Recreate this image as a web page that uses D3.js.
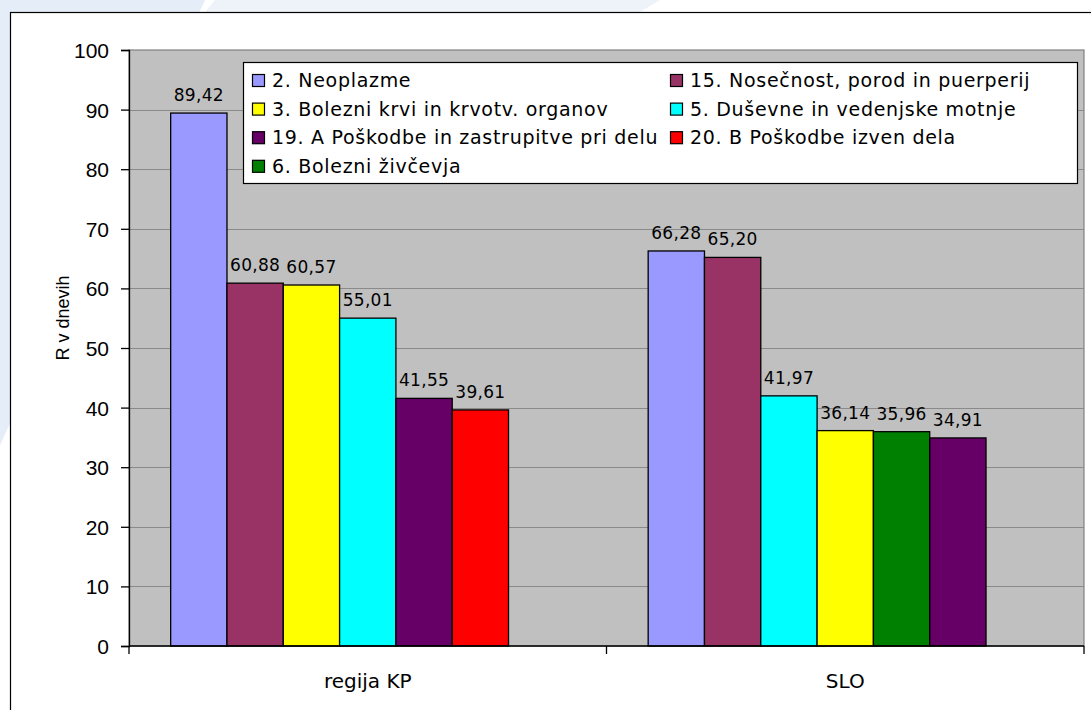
<!DOCTYPE html>
<html>
<head>
<meta charset="utf-8">
<script src="https://cdn.jsdelivr.net/npm/d3@7"></script>
<style>
  body { margin: 0; background: #ffffff; }
  svg { display: block; }
  .tick-label { font-family: "Liberation Sans", Arial, sans-serif; font-size: 21px; fill: #000; }
  .cat-label { font-family: "DejaVu Sans", sans-serif; font-size: 20px; fill: #000; }
  .value-label { font-family: "DejaVu Sans", sans-serif; font-size: 17px; letter-spacing: 0.3px; fill: #000; }
  .legend-text { font-family: "DejaVu Sans", sans-serif; font-size: 19px; letter-spacing: 0.7px; fill: #000; }
  .axis-title { font-family: "Liberation Sans", Arial, sans-serif; font-size: 18px; fill: #000; }
</style>
</head>
<body>
<script>
// categories on the x axis
var categories = ["regija KP", "SLO"];

// all series, in legend order
var seriesNames = [
  "2. Neoplazme",
  "15. Nosečnost, porod in puerperij",
  "3. Bolezni krvi in krvotv. organov",
  "5. Duševne in vedenjske motnje",
  "19. A Poškodbe in zastrupitve pri delu",
  "20. B Poškodbe izven dela",
  "6. Bolezni živčevja"
];

// bars of each category, left to right
var kpSeries = ["2. Neoplazme", "15. Nosečnost, porod in puerperij", "3. Bolezni krvi in krvotv. organov",
                "5. Duševne in vedenjske motnje", "19. A Poškodbe in zastrupitve pri delu", "20. B Poškodbe izven dela"];
var kpValues = [89.42, 60.88, 60.57, 55.01, 41.55, 39.61];

var sloSeries = ["2. Neoplazme", "15. Nosečnost, porod in puerperij", "5. Duševne in vedenjske motnje",
                 "3. Bolezni krvi in krvotv. organov", "6. Bolezni živčevja", "19. A Poškodbe in zastrupitve pri delu"];
var sloValues = [66.28, 65.20, 41.97, 36.14, 35.96, 34.91];

var yTicks = [0, 10, 20, 30, 40, 50, 60, 70, 80, 90, 100];

// excel style colours, one per series
var seriesColors = ["#9999ff", "#993366", "#ffff00", "#00ffff", "#660066", "#ff0000", "#008000"];

var totalWidth = 1091;
var totalHeight = 710;
var margin = {"left": 129, "right": 7, "top": 50, "bottom": 64};

var svg = d3.select("body")
            .append("svg")
            .attr("width", totalWidth)
            .attr("height", totalHeight);

// faint background decoration
svg.append("path")
   .attr("d", "M0,0 L205,0 L0,445 Z")
   .attr("fill", "#e4edf8");
svg.append("path")
   .attr("d", "M215,0 L660,0 L640,12 L205,12 Z")
   .attr("fill", "#eef3fa");

// chart frame
svg.append("rect")
   .attr("x", 10.5)
   .attr("y", 12.5)
   .attr("width", 1100)
   .attr("height", 720)
   .attr("fill", "#ffffff")
   .attr("stroke", "#000")
   .attr("stroke-width", 1.2);

var plotLeft = margin.left;
var plotRight = totalWidth - margin.right;
var plotTop = margin.top;
var plotBottom = totalHeight - margin.bottom;

// scales
var xScale = d3.scaleBand()
               .domain(categories)
               .range([plotLeft, plotRight]);

var slotScale = d3.scaleBand()
                  .domain(d3.range(seriesNames.length))
                  .range([0, xScale.bandwidth()])
                  .paddingInner(0)
                  .paddingOuter(0.74);

var yScale = d3.scaleLinear()
               .domain([0, 100])
               .range([plotBottom, plotTop]);

var colorScale = d3.scaleOrdinal()
                   .domain(seriesNames)
                   .range(seriesColors);

// plot area
svg.append("rect")
   .attr("x", plotLeft)
   .attr("y", plotTop)
   .attr("width", plotRight - plotLeft)
   .attr("height", plotBottom - plotTop)
   .attr("fill", "#c0c0c0")
   .attr("stroke", "#808080")
   .attr("stroke-width", 1.2);

// gridlines
svg.append("g")
   .selectAll("line")
   .data(yTicks.filter(function(d) { return d > 0 && d < 100; }))
   .enter()
   .append("line")
   .attr("x1", plotLeft)
   .attr("x2", plotRight)
   .attr("y1", function(d) { return Math.round(yScale(d)) + 0.5; })
   .attr("y2", function(d) { return Math.round(yScale(d)) + 0.5; })
   .attr("stroke", "#8a8a8a")
   .attr("stroke-width", 1.2);

// bar data per category
var groups = [
  {"cat": categories[0], "series": kpSeries, "values": kpValues},
  {"cat": categories[1], "series": sloSeries, "values": sloValues}
];

var bars = [];
groups.forEach(function(g) {
  g.values.forEach(function(v, i) {
    bars.push({"cat": g.cat, "slot": i, "name": g.series[i], "value": v});
  });
});

var formatValue = function(v) { return d3.format(".2f")(v).replace(".", ","); };

svg.append("g")
   .selectAll("rect")
   .data(bars)
   .enter()
   .append("rect")
   .attr("x", function(d) { return xScale(d.cat) + slotScale(d.slot); })
   .attr("y", function(d) { return yScale(d.value); })
   .attr("width", slotScale.bandwidth())
   .attr("height", function(d) { return plotBottom - yScale(d.value); })
   .attr("fill", function(d) { return colorScale(d.name); })
   .attr("stroke", "#000")
   .attr("stroke-width", 1.3);

// value labels
svg.append("g")
   .selectAll("text")
   .data(bars)
   .enter()
   .append("text")
   .attr("class", "value-label")
   .attr("x", function(d) { return xScale(d.cat) + slotScale(d.slot) + slotScale.bandwidth() / 2; })
   .attr("y", function(d) { return yScale(d.value) - 12; })
   .attr("text-anchor", "middle")
   .text(function(d) { return formatValue(d.value); });

// y axis
var yAxis = d3.axisLeft(yScale)
              .tickValues(yTicks)
              .tickSize(8)
              .tickPadding(12);

var yAxisG = svg.append("g")
                .attr("transform", "translate(" + plotLeft + ",0)")
                .call(yAxis);
yAxisG.select(".domain").attr("stroke", "#000").attr("stroke-width", 1.3);
yAxisG.selectAll(".tick line").attr("stroke", "#000").attr("stroke-width", 1.3);
yAxisG.selectAll(".tick text")
      .attr("class", "tick-label")
      .attr("font-family", null)
      .attr("font-size", null)
      .attr("dy", "0.36em");
yAxisG.attr("font-family", null).attr("font-size", null);

// x axis with ticks between the categories
var xAxisG = svg.append("g")
                .attr("transform", "translate(0," + plotBottom + ")");
xAxisG.append("line")
      .attr("x1", plotLeft)
      .attr("x2", plotRight)
      .attr("stroke", "#000")
      .attr("stroke-width", 1.3);
xAxisG.selectAll(".xtick")
      .data(categories.map(function(c) { return xScale(c); }).concat([plotRight]))
      .enter()
      .append("line")
      .attr("class", "xtick")
      .attr("x1", function(d) { return d; })
      .attr("x2", function(d) { return d; })
      .attr("y1", 0)
      .attr("y2", 8)
      .attr("stroke", "#000")
      .attr("stroke-width", 1.3);
xAxisG.selectAll(".cat-label")
      .data(categories)
      .enter()
      .append("text")
      .attr("class", "cat-label")
      .attr("x", function(d) { return xScale(d) + xScale.bandwidth() / 2; })
      .attr("y", 42)
      .attr("text-anchor", "middle")
      .text(function(d) { return d; });

// y axis title, left of the tick labels
svg.append("text")
   .attr("class", "axis-title")
   .attr("transform", "translate(69,318) rotate(-90)")
   .attr("text-anchor", "middle")
   .text("R v dnevih");

// legend
var legendBox = {"x": 243.5, "y": 62.5, "width": 834, "height": 121};
svg.append("rect")
   .attr("x", legendBox.x)
   .attr("y", legendBox.y)
   .attr("width", legendBox.width)
   .attr("height", legendBox.height)
   .attr("fill", "#ffffff")
   .attr("stroke", "#000")
   .attr("stroke-width", 1.2);

var legendCols = [252, 670];
var legendItems = svg.selectAll(".legend")
                     .data(seriesNames)
                     .enter()
                     .append("g")
                     .classed("legend", true)
                     .attr("transform", function(d, i) {
                       return "translate(" + legendCols[i % 2] + "," + (74 + Math.floor(i / 2) * 28.6) + ")";
                     });

legendItems.append("rect")
           .attr("x", 0.5)
           .attr("y", 0.5)
           .attr("width", 12)
           .attr("height", 12)
           .attr("fill", function(d) { return colorScale(d); })
           .attr("stroke", "#000")
           .attr("stroke-width", 1.2);

legendItems.append("text")
           .attr("class", "legend-text")
           .attr("x", 20)
           .attr("y", 13)
           .text(function(d) { return d; });
</script>
</body>
</html>
